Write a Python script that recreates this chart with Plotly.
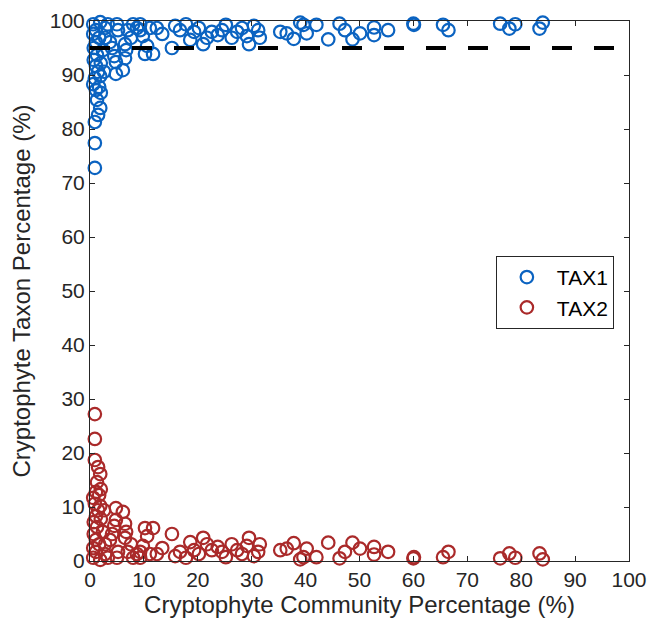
import plotly.graph_objects as go

community = [0.9, 0.9, 0.9, 1.5, 1.9, 1.3, 2.0, 1.1, 1.7, 0.6,
             0.9, 1.9, 1.5, 2.6, 1.1, 2.0, 0.7, 1.3, 2.4, 0.7,
             1.1, 1.7, 0.6, 1.1, 0.6, 1.9, 2.8, 2.8, 3.7, 4.1,
             4.5, 4.8, 4.8, 6.1, 6.5, 6.7, 6.5, 5.2, 5.0, 3.3,
             7.6, 7.0, 8.0, 8.7, 9.3, 9.8, 10.6, 11.7, 10.2, 9.3,
             11.1, 12.4, 13.4, 15.2, 15.8, 16.7, 17.8, 18.6, 19.3, 20.2,
             21.0, 21.7, 22.6, 23.7, 24.5, 25.2, 26.3, 27.3, 28.2, 29.1,
             29.5, 30.4, 31.2, 31.5, 35.3,
             36.5, 37.8, 39.0, 39.6, 40.2, 42.0, 44.2, 46.3, 47.3, 48.7,
             50.1, 52.7, 52.7, 55.3, 60.0, 60.1, 65.5, 66.5, 76.1, 77.8,
             78.9, 83.4, 84.0]

tax1 = [72.8, 77.4, 81.3, 82.6, 83.9, 85.4, 86.7, 87.2, 87.8, 88.3,
        89.4, 89.8, 90.6, 90.6, 91.7, 92.2, 92.8, 93.7, 94.6, 95.0,
        96.1, 96.9, 97.6, 98.3, 99.4, 99.8, 98.7, 96.9, 96.1, 95.0,
        93.5, 92.4, 90.2, 90.9, 93.1, 94.6, 95.7, 98.3, 99.4, 99.4,
        96.9, 98.3, 99.4, 98.7, 98.3, 97.2, 95.4, 93.9, 93.9, 99.4,
        98.7, 98.7, 97.6, 95.0, 99.1, 98.3, 99.4, 96.5, 98.0, 98.7,
        95.7, 96.9, 98.0, 97.4, 98.3, 99.3, 96.9, 98.0, 98.7, 97.2,
        95.7, 99.1, 98.3, 96.9, 98.0,
        97.7, 96.7, 99.7, 99.3, 97.7, 99.3, 96.6, 99.5, 98.3, 96.6,
        97.7, 98.8, 97.4, 98.3, 99.5, 99.3, 99.3, 98.3, 99.5, 98.6,
        99.4, 98.6, 99.7]

tax2 = [27.2, 22.6, 18.7, 17.4, 16.1, 14.6, 13.3, 12.8, 12.2, 11.7,
        10.6, 10.2, 9.4, 9.4, 8.3, 7.8, 7.2, 6.3, 5.4, 5.0,
        3.9, 3.1, 2.4, 1.7, 0.6, 0.2, 1.3, 3.1, 3.9, 5.0,
        6.5, 7.6, 9.8, 9.1, 6.9, 5.4, 4.3, 1.7, 0.6, 0.6,
        3.1, 1.7, 0.6, 1.3, 1.7, 2.8, 4.6, 6.1, 6.1, 0.6,
        1.3, 1.3, 2.4, 5.0, 0.9, 1.7, 0.6, 3.5, 2.0, 1.3,
        4.3, 3.1, 2.0, 2.6, 1.7, 0.7, 3.1, 2.0, 1.3, 2.8,
        4.3, 0.9, 1.7, 3.1, 2.0,
        2.3, 3.3, 0.3, 0.7, 2.3, 0.7, 3.4, 0.5, 1.7, 3.4,
        2.3, 1.2, 2.6, 1.7, 0.5, 0.7, 0.7, 1.7, 0.5, 1.4,
        0.6, 1.4, 0.3]

threshold_x = [0, 100]
threshold_y = [95, 95]
ticks = [0, 10, 20, 30, 40, 50, 60, 70, 80, 90, 100]

BLUE = "#0B63C1"
RED = "#AA2A2A"
FONT = "Liberation Sans"
AX = "#262626"

fig = go.Figure()
fig.add_trace(go.Scatter(x=community, y=tax1, mode="markers", name="TAX1",
                         cliponaxis=False,
                         marker=dict(symbol="circle-open", size=12.5, color=BLUE,
                                     line=dict(width=2.2, color=BLUE))))
fig.add_trace(go.Scatter(x=community, y=tax2, mode="markers", name="TAX2",
                         cliponaxis=False,
                         marker=dict(symbol="circle-open", size=12.5, color=RED,
                                     line=dict(width=2.2, color=RED))))
fig.add_trace(go.Scatter(x=threshold_x, y=threshold_y, mode="lines", showlegend=False,
                         line=dict(color="black", width=4, dash="20px,22px")))

axis_common = dict(range=[0, 100], tickvals=ticks, ticks="inside", ticklen=5,
                   tickcolor=AX, showline=True, linecolor=AX, linewidth=1,
                   mirror="allticks", showgrid=False, zeroline=False,
                   automargin=False,
                   tickfont=dict(family=FONT, size=21, color=AX))

fig.update_layout(
    width=650, height=629,
    margin=dict(l=90, r=21, t=21, b=68),
    paper_bgcolor="white", plot_bgcolor="white",
    font=dict(family=FONT, size=21, color=AX),
    xaxis=dict(title=dict(text="Cryptophyte Community Percentage (%)",
                          font=dict(family=FONT, size=24, color=AX), standoff=4),
               **axis_common),
    yaxis=dict(title=dict(text="Cryptophyte Taxon Percentage (%)",
                          font=dict(family=FONT, size=24, color=AX), standoff=12),
               **axis_common),
    legend=dict(x=0.753, y=0.565, xanchor="left", yanchor="top",
                bordercolor=AX, borderwidth=1, bgcolor="white", itemwidth=50,
                font=dict(family=FONT, size=21, color="black")),
)

fig.write_html("out.html")
